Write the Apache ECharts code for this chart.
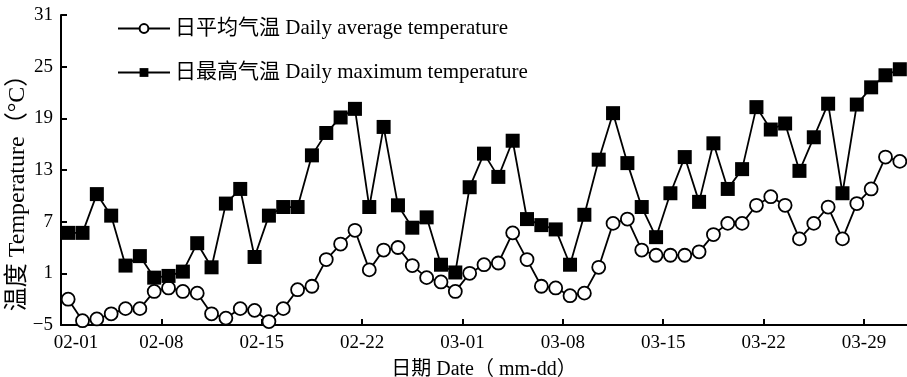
<!DOCTYPE html>
<html>
<head>
<meta charset="utf-8">
<script src="https://cdn.jsdelivr.net/npm/echarts@6/dist/echarts.min.js"></script>
<style>
html,body{margin:0;padding:0;background:#fff;}
#chart{width:907px;height:377px;}
</style>
</head>
<body>
<div id="chart"></div>
<script>
const dates = ['02-01','02-02','02-03','02-04','02-05','02-06','02-07','02-08','02-09','02-10',
  '02-11','02-12','02-13','02-14','02-15','02-16','02-17','02-18','02-19','02-20',
  '02-21','02-22','02-23','02-24','02-25','02-26','02-27','02-28','03-01','03-02',
  '03-03','03-04','03-05','03-06','03-07','03-08','03-09','03-10','03-11','03-12',
  '03-13','03-14','03-15','03-16','03-17','03-18','03-19','03-20','03-21','03-22',
  '03-23','03-24','03-25','03-26','03-27','03-28','03-29','03-30','03-31'];
const tickLabels = ['02-01','02-08','02-15','02-22','03-01','03-08','03-15','03-22','03-29'];
const yTicks = [-5, 1, 7, 13, 19, 25, 31];
const avgTemp = [-2.0,-4.5,-4.3,-3.7,-3.1,-3.1,-1.1,-0.7,-1.1,-1.3,-3.7,-4.2,-3.1,-3.3,-4.6,
  -3.1,-0.9,-0.5,2.6,4.4,6.0,1.4,3.7,4.0,1.9,0.5,0.0,-1.1,1.0,2.0,
  2.2,5.7,2.6,-0.5,-0.7,-1.6,-1.3,1.7,6.8,7.3,3.7,3.1,3.1,3.1,3.5,
  5.5,6.8,6.8,8.9,9.9,8.9,5.0,6.8,8.7,5.0,9.1,10.8,14.5,14.0];
const maxTemp = [5.7,5.7,10.2,7.7,1.9,3.0,0.5,0.7,1.2,4.5,1.7,9.1,10.8,2.9,7.7,
  8.7,8.7,14.7,17.3,19.1,20.1,8.7,18.0,8.9,6.3,7.5,2.0,1.1,11.0,14.9,
  12.2,16.4,7.3,6.6,6.1,2.0,7.8,14.2,19.6,13.8,8.7,5.2,10.3,14.5,9.3,
  16.1,10.8,13.1,20.3,17.7,18.4,12.9,16.8,20.7,10.3,20.6,22.6,24.0,24.7];
const seriesNames = ['日平均气温 Daily average temperature', '日最高气温 Daily maximum temperature'];

const FONT = '"Liberation Serif", "Times New Roman", "Noto Sans CJK SC", serif';
const toPoints = arr => arr.map((v, i) => [i + 0.5, v]);

const chart = echarts.init(document.getElementById('chart'));
chart.setOption({
  animation: false,
  backgroundColor: '#fff',
  grid: { left: 61, right: 0, top: 15, bottom: 52, containLabel: false, outerBoundsMode: 'none' },
  legend: {
    orient: 'vertical', left: 112, top: 13, itemGap: 23,
    itemWidth: 52, itemHeight: 11,
    textStyle: { fontFamily: FONT, fontSize: 21, color: '#000' },
    data: seriesNames
  },
  xAxis: {
    type: 'value', min: 0, max: dates.length,
    name: '日期 Date（ mm-dd）', nameLocation: 'middle', nameGap: 35,
    nameTextStyle: { fontFamily: FONT, fontSize: 20, color: '#000' },
    axisLine: { onZero: false, lineStyle: { color: '#000', width: 2 } },
    axisTick: { inside: true, length: 6, lineStyle: { color: '#000', width: 2 },
      customValues: tickLabels.map(t => dates.indexOf(t)) },
    axisLabel: {
      customValues: tickLabels.map(t => dates.indexOf(t)),
      fontFamily: FONT, fontSize: 19, color: '#000', margin: 9,
      formatter: v => v === 0 ? '{first|' + dates[v] + '}' : dates[v],
      rich: { first: { fontFamily: FONT, fontSize: 19, color: '#000', padding: [0,0,0,30] } }
    },
    splitLine: { show: false }
  },
  yAxis: {
    type: 'value', min: yTicks[0], max: yTicks[yTicks.length-1], interval: 6,
    name: '温度 Temperature（°C）', nameLocation: 'middle', nameGap: 31, nameMoveOverlap: false,
    nameTextStyle: { fontFamily: FONT, fontSize: 24, color: '#000', padding: [0,34,0,0] },
    axisLine: { show: true, onZero: false, lineStyle: { color: '#000', width: 2 } },
    axisTick: { show: true, inside: true, length: 6, lineStyle: { color: '#000', width: 2 } },
    axisLabel: { fontFamily: FONT, fontSize: 19, color: '#000', margin: 8,
      formatter: v => String(v).replace('-', '\u2212') },
    splitLine: { show: false }
  },
  series: [
    {
      name: seriesNames[0], type: 'line', data: toPoints(avgTemp),
      symbol: 'circle', symbolSize: 13, showAllSymbol: true,
      itemStyle: { color: '#fff', borderColor: '#000', borderWidth: 1.8 },
      lineStyle: { color: '#000', width: 1.8 }, z: 2
    },
    {
      name: seriesNames[1], type: 'line', data: toPoints(maxTemp),
      symbol: 'rect', symbolSize: 14, showAllSymbol: true,
      itemStyle: { color: '#000', borderColor: '#000', borderWidth: 0 },
      lineStyle: { color: '#000', width: 1.8 }, z: 3
    }
  ]
});
</script>
</body>
</html>
